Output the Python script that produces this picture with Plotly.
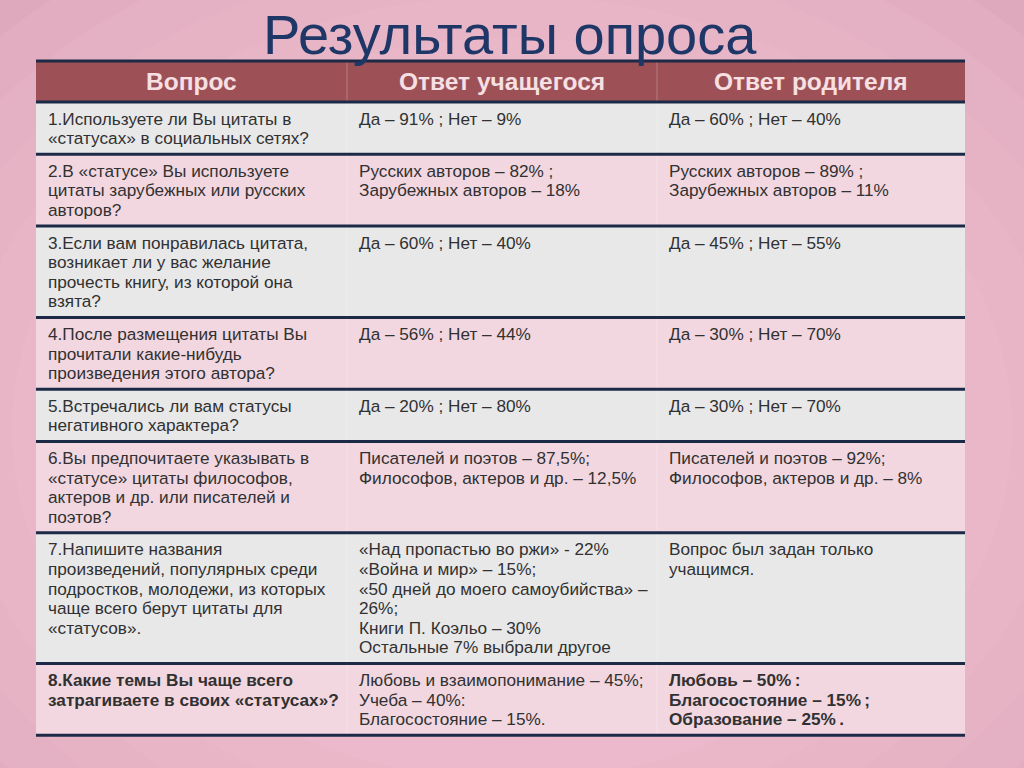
import plotly.graph_objects as go

# ---------------- data ----------------
title = "Результаты опроса"
headers = ["Вопрос", "Ответ учащегося", "Ответ родителя"]
questions = [
    "1.Используете ли Вы цитаты в<br>«статусах» в социальных сетях?",
    "2.В «статусе» Вы используете<br>цитаты зарубежных или русских<br>авторов?",
    "3.Если вам понравилась цитата,<br>возникает ли у вас желание<br>прочесть книгу, из которой она<br>взята?",
    "4.После размещения цитаты Вы<br>прочитали какие-нибудь<br>произведения этого автора?",
    "5.Встречались ли вам статусы<br>негативного характера?",
    "6.Вы предпочитаете указывать в<br>«статусе» цитаты философов,<br>актеров и др. или писателей и<br>поэтов?",
    "7.Напишите названия<br>произведений, популярных среди<br>подростков, молодежи, из которых<br>чаще всего берут цитаты для<br>«статусов».",
    "8.Какие темы Вы чаще всего<br>затрагиваете в своих «статусах»?",
]
student_answers = [
    "Да – 91% ; Нет – 9%",
    "Русских авторов – 82% ;<br>Зарубежных авторов – 18%",
    "Да – 60% ; Нет – 40%",
    "Да – 56% ; Нет – 44%",
    "Да – 20% ; Нет – 80%",
    "Писателей и поэтов – 87,5%;<br>Философов, актеров и др. – 12,5%",
    "«Над пропастью во ржи» - 22%<br>«Война и мир» – 15%;<br>«50 дней до моего самоубийства» –<br>26%;<br>Книги П. Коэльо – 30%<br>Остальные 7% выбрали другое",
    "Любовь и взаимопонимание – 45%;<br>Учеба – 40%:<br>Благосостояние – 15%.",
]
parent_answers = [
    "Да – 60% ; Нет – 40%",
    "Русских авторов – 89% ;<br>Зарубежных авторов – 11%",
    "Да – 45% ; Нет – 55%",
    "Да – 30% ; Нет – 70%",
    "Да – 30% ; Нет – 70%",
    "Писателей и поэтов – 92%;<br>Философов, актеров и др. – 8%",
    "Вопрос был задан только<br>учащимся.",
    "Любовь – 50%\u2009:<br>Благосостояние – 15%\u2009;<br>Образование – 25%\u2009.",
]
bold_question = [False] * 7 + [True]
bold_parent = [False] * 7 + [True]

# ---------------- styling ----------------
W, H = 1024, 768
FONT = "Liberation Sans, Arial, sans-serif"
col_edges = [36, 347, 657, 965]
table_top = 61
header_h = 41
line_h = 19.6
row_pad = 13
first_line_off = 16.5
pad_x = 10
navy = "#1d2a47"
header_fill = "#9d5156"
fills = ["#e8e8e9", "#f2d7e0"]
text_color = "#313131"
body_size = 17.2

fig = go.Figure()
# invisible trace to establish axes
fig.add_trace(go.Scatter(x=[0, W], y=[0, H], mode="markers",
                         marker=dict(opacity=0), hoverinfo="skip", showlegend=False))

shapes = []
annotations = []

# background radial-ish glow
cx, cy = 512, 430
for i in range(12):
    rx = 720 - i * 55
    ry = 560 - i * 42
    shapes.append(dict(type="circle", xref="x", yref="y", layer="below",
                       x0=cx - rx, x1=cx + rx, y0=cy - ry, y1=cy + ry,
                       fillcolor="#f6cbda", opacity=0.13, line=dict(width=0)))

# title
annotations.append(dict(x=510, y=34, xref="x", yref="y", text=title, showarrow=False,
                        xanchor="center", yanchor="middle",
                        font=dict(family=FONT, size=56, color="#1f3767")))

# header
shapes.append(dict(type="rect", xref="x", yref="y", layer="below",
                   x0=col_edges[0], x1=col_edges[-1], y0=table_top, y1=table_top + header_h,
                   fillcolor=header_fill, line=dict(width=0)))
for j, h in enumerate(headers):
    annotations.append(dict(x=(col_edges[j] + col_edges[j + 1]) / 2, y=table_top + header_h / 2,
                            xref="x", yref="y", text="<b>" + h + "</b>", showarrow=False,
                            xanchor="center", yanchor="middle",
                            font=dict(family=FONT, size=24.5, color="#f6e0e3")))

# body rows
def split_lines(s):
    return s.split("<br>")

y = table_top + header_h
row_bounds = [y]
for i in range(len(questions)):
    cells = [(questions[i], bold_question[i]), (student_answers[i], False),
             (parent_answers[i], bold_parent[i])]
    n = max(len(split_lines(c[0])) for c in cells)
    rh = n * line_h + row_pad
    shapes.append(dict(type="rect", xref="x", yref="y", layer="below",
                       x0=col_edges[0], x1=col_edges[-1], y0=y, y1=y + rh,
                       fillcolor=fills[i % 2], line=dict(width=0)))
    for j, (txt, b) in enumerate(cells):
        for k, part in enumerate(split_lines(txt)):
            t = "<b>" + part + "</b>" if b else part
            annotations.append(dict(x=col_edges[j] + pad_x, y=y + first_line_off + k * line_h,
                                    xref="x", yref="y", text=t, showarrow=False,
                                    xanchor="left", yanchor="middle", align="left",
                                    font=dict(family=FONT, size=body_size, color=text_color)))
    y += rh
    row_bounds.append(y)

# faint column separators
for xe in col_edges[1:-1]:
    shapes.append(dict(type="line", xref="x", yref="y", x0=xe, x1=xe,
                       y0=table_top, y1=row_bounds[-1],
                       line=dict(color="rgba(255,255,255,0.25)", width=1)))

# navy horizontal rules
for yb in [table_top] + row_bounds:
    shapes.append(dict(type="line", xref="x", yref="y", x0=col_edges[0], x1=col_edges[-1],
                       y0=yb, y1=yb, line=dict(color=navy, width=3)))

fig.update_layout(
    width=W, height=H, margin=dict(l=0, r=0, t=0, b=0),
    paper_bgcolor="#dfa9bd", plot_bgcolor="rgba(0,0,0,0)",
    xaxis=dict(range=[0, W], visible=False, fixedrange=True),
    yaxis=dict(range=[H, 0], visible=False, fixedrange=True),
    shapes=shapes, annotations=annotations, showlegend=False,
)

fig.write_html("out.html", config={"displayModeBar": False},
               post_script="document.body.style.margin='0';document.body.style.overflow='hidden';")
